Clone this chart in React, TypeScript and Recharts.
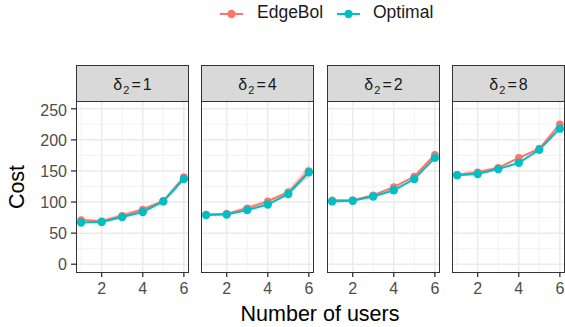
import React from "react";
import {
  Area,
  CartesianGrid,
  ComposedChart,
  Line,
  XAxis,
  YAxis,
} from "recharts";

const users = [1, 2, 3, 4, 5, 6];
const deltaLabels = ["1", "4", "2", "8"];

const edgeBol = [
  [71, 69, 78, 88, 102, 140],
  [80, 81, 90, 101, 116, 150],
  [103, 103, 111, 124, 141, 176],
  [144, 148, 155, 171, 186, 225],
];

const edgeBolSpread = [
  [2, 3, 4, 3, 2, 4],
  [1, 2, 4, 3, 3, 11],
  [1, 1, 2, 2, 2, 3],
  [2, 3, 2, 2, 2, 5],
];

const optimal = [
  [67, 68, 76, 84, 101, 137],
  [79, 80, 87, 96, 113, 148],
  [101, 102, 109, 119, 137, 171],
  [143, 145, 153, 163, 184, 218],
];

const yTicks = [0, 50, 100, 150, 200, 250];
const yMinor = [25, 75, 125, 175, 225];
const xTicks = [2, 4, 6];
const xMinor = [1, 3, 5];

const EDGE = "#F8766D";
const OPT = "#00BFC4";
const FONT = "Arial, 'Liberation Sans', sans-serif";

const PLOT_TOP = 101;
const PLOT_H = 171;
const PLOT_W = 113;
const LEFTS = [76, 201, 327, 452];
const Y_AXIS_W = 40;
const X_AXIS_H = 30;

const tickStyle = { fontSize: 16, fill: "#4d4d4d", fontFamily: FONT };

function Panel({ idx }: { idx: number }) {
  const data = users.map((u, i) => ({
    x: u,
    edge: edgeBol[idx][i],
    opt: optimal[idx][i],
    band: [
      edgeBol[idx][i] - edgeBolSpread[idx][i],
      edgeBol[idx][i] + edgeBolSpread[idx][i],
    ],
  }));
  const showY = idx === 0;
  const left = LEFTS[idx];
  const chartLeft = showY ? left - Y_AXIS_W : left;
  const chartW = showY ? PLOT_W + Y_AXIS_W : PLOT_W;

  return (
    <>
      <div
        style={{
          position: "absolute",
          left,
          top: 65,
          width: PLOT_W,
          height: PLOT_TOP - 65 + 1,
          background: "#d9d9d9",
          border: "1.3px solid #333333",
          boxSizing: "border-box",
          display: "flex",
          alignItems: "center",
          justifyContent: "center",
          fontSize: 16,
          color: "#1a1a1a",
          lineHeight: 1,
        }}
      >
        <span style={{ position: "relative", top: 1 }}>
          δ
          <span style={{ fontSize: 11, position: "relative", top: 4, marginLeft: 1 }}>2</span>
          <span style={{ marginLeft: 2 }}>=</span>
          <span style={{ marginLeft: 2 }}>{deltaLabels[idx]}</span>
        </span>
      </div>
      <div style={{ position: "absolute", left: chartLeft, top: PLOT_TOP }}>
        <ComposedChart
          width={chartW}
          height={PLOT_H + X_AXIS_H}
          data={data}
          margin={{ top: 0, right: 0, bottom: 0, left: 0 }}
        >
          <CartesianGrid
            verticalValues={xMinor}
            horizontalValues={yMinor}
            stroke="#f0f0f0"
            strokeWidth={0.8}
          />
          <CartesianGrid
            verticalValues={xTicks}
            horizontalValues={yTicks}
            stroke="#ebebeb"
            strokeWidth={1.5}
          />
          <XAxis
            type="number"
            dataKey="x"
            domain={[0.75, 6.25]}
            ticks={xTicks}
            axisLine={false}
            tickLine={{ stroke: "#333333", strokeWidth: 1.3 }}
            tickSize={5}
            tickMargin={6}
            height={X_AXIS_H}
            tick={tickStyle}
            allowDataOverflow
          />
          <YAxis
            type="number"
            domain={[-12.5, 262.5]}
            ticks={yTicks}
            hide={!showY}
            width={Y_AXIS_W}
            axisLine={false}
            tickLine={{ stroke: "#333333", strokeWidth: 1.3 }}
            tickSize={5}
            tickMargin={4}
            tick={tickStyle}
            allowDataOverflow
          />
          <Area
            dataKey="band"
            stroke="none"
            fill={EDGE}
            fillOpacity={0.3}
            isAnimationActive={false}
          />
          <Line
            dataKey="edge"
            stroke={EDGE}
            strokeWidth={2}
            dot={{ r: 3.8, fill: EDGE, stroke: EDGE, strokeWidth: 0 }}
            isAnimationActive={false}
          />
          <Line
            dataKey="opt"
            stroke={OPT}
            strokeWidth={2}
            dot={{ r: 4.2, fill: OPT, stroke: OPT, strokeWidth: 0 }}
            isAnimationActive={false}
          />
        </ComposedChart>
      </div>
      <div
        style={{
          position: "absolute",
          left,
          top: PLOT_TOP,
          width: PLOT_W,
          height: PLOT_H + 1,
          border: "1.3px solid #333333",
          boxSizing: "border-box",
          pointerEvents: "none",
        }}
      />
    </>
  );
}

function LegendKey({ color, left }: { color: string; left: number }) {
  return (
    <svg
      width={23}
      height={12}
      style={{ position: "absolute", left, top: 8 }}
    >
      <line x1={0} y1={6} x2={23} y2={6} stroke={color} strokeWidth={2} />
      <circle cx={11.5} cy={6} r={4.2} fill={color} />
    </svg>
  );
}

const legendText = {
  position: "absolute" as const,
  top: 4,
  fontSize: 17.5,
  lineHeight: 1,
  color: "#1a1a1a",
  whiteSpace: "nowrap" as const,
};

export default function App() {
  return (
    <div
      style={{
        position: "absolute",
        left: 0,
        top: 0,
        width: 565,
        height: 327,
        background: "#ffffff",
        fontFamily: FONT,
        overflow: "hidden",
      }}
    >
      <LegendKey color={EDGE} left={220} />
      <span style={{ ...legendText, left: 257 }}>EdgeBol</span>
      <LegendKey color={OPT} left={337} />
      <span style={{ ...legendText, left: 373 }}>Optimal</span>
      {deltaLabels.map((_, i) => (
        <Panel key={i} idx={i} />
      ))}
      <div
        style={{
          position: "absolute",
          left: 17.5,
          top: 187,
          transform: "translate(-50%, -50%) rotate(-90deg)",
          fontSize: 21.5,
          lineHeight: 1,
          color: "#000000",
          whiteSpace: "nowrap",
        }}
      >
        Cost
      </div>
      <div
        style={{
          position: "absolute",
          left: 320,
          top: 303.5,
          transform: "translateX(-50%)",
          fontSize: 21.5,
          lineHeight: 1,
          color: "#000000",
          whiteSpace: "nowrap",
        }}
      >
        Number of users
      </div>
    </div>
  );
}
